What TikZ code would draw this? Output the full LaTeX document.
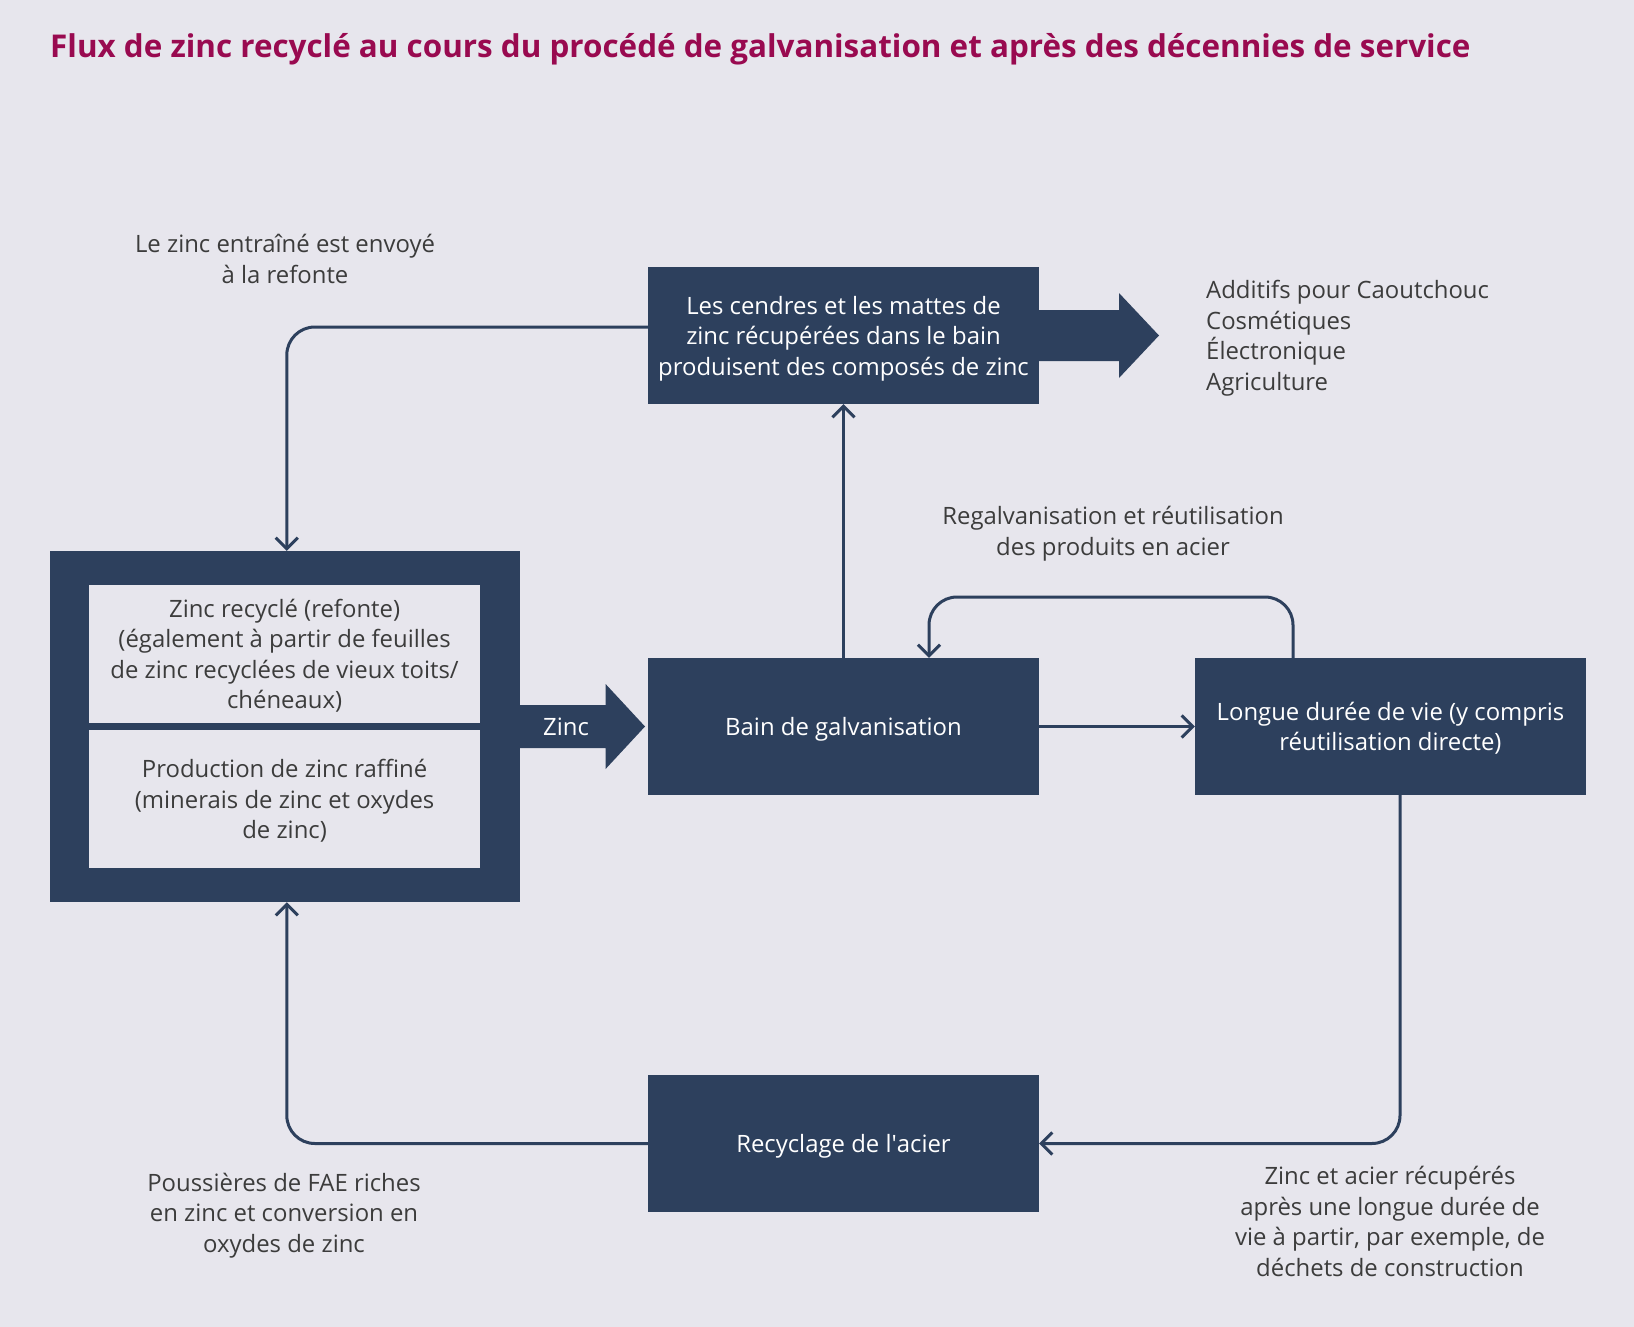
\documentclass[tikz,border=0pt]{standalone}
\usepackage{fontspec}
\setmainfont{Open Sans}
\usetikzlibrary{arrows.meta}
\definecolor{bgc}{HTML}{E7E6ED}
\definecolor{boxc}{HTML}{2D405D}
\definecolor{txtc}{HTML}{3C3C3C}
\definecolor{titc}{HTML}{990A50}
\newcommand{\bodyfont}{\fontsize{23.9pt}{30.5pt}\selectfont}
\begin{document}
\begin{tikzpicture}[x=1pt,y=-1pt,
  boxnode/.style={fill=boxc, text=white, inner sep=0pt, minimum width=391pt, minimum height=137pt, align=center, font=\bodyfont, text depth=0pt},
  innerbox/.style={fill=bgc, text=txtc, inner sep=0pt, minimum width=391pt, minimum height=138pt, align=center, font=\bodyfont, text depth=0pt},
  lbl/.style={text=txtc, inner sep=0pt, align=center, font=\bodyfont, anchor=base},
  conn/.style={draw=boxc, line width=3pt, rounded corners=28pt, -{Straight Barb[length=11pt,width=22pt]}}]
\fill[bgc] (0,0) rectangle (1634,1327);
\useasboundingbox (0,0) rectangle (1634,1327);

% title
\node[anchor=base west, inner sep=0pt, text=titc, font=\fontsize{31.4pt}{36pt}\selectfont\bfseries] (title) at (50,58) {Flux de zinc recyclé au cours du procédé de galvanisation et après des décennies de service};

% boxes
\node[boxnode] (top) at (843.5,335.5) {Les cendres et les mattes de\\zinc récupérées dans le bain\\produisent des composés de zinc};
\node[boxnode] (bain) at (843.5,726.5) {Bain de galvanisation};
\node[boxnode] (longue) at (1390.5,726.5) {Longue durée de vie (y compris\\réutilisation directe)};
\node[boxnode] (recy) at (843.5,1143.5) {Recyclage de l\textquotesingle acier};

\node[fill=boxc, inner sep=0pt, minimum width=470.4pt, minimum height=351pt] (outer) at (284.8,726.5) {};
\node[innerbox] (in1) at (284.6,654) {Zinc recyclé (refonte)\\(également à partir de feuilles\\de zinc recyclées de vieux toits/\\chéneaux)};
\node[innerbox] (in2) at (284.6,799) {Production de zinc raffiné\\(minerais de zinc et oxydes\\de zinc)};

% big arrows
\fill[boxc] (outer.east |- 0,705) -- (605.6,705) -- (605.6,684) -- (645,726.5) -- (605.6,769) -- (605.6,748) -- (outer.east |- 0,748) -- cycle;
\node[text=white, inner sep=0pt, font=\bodyfont, anchor=base] (zinclbl) at (566,735) {Zinc};
\fill[boxc] (top.east |- 0,310) -- (1119,310) -- (1119,293) -- (1159,335.5) -- (1119,378) -- (1119,361) -- (top.east |- 0,361) -- cycle;

% labels (anchor = baseline of last line)
\node[lbl] (lrefonte) at (285,283) {Le zinc entraîné est envoyé\\à la refonte};
\node[lbl, align=left, anchor=base west] (ladd) at (1206,390) {Additifs pour Caoutchouc\\Cosmétiques\\Électronique\\Agriculture};
\node[lbl] (lregal) at (1113,555) {Regalvanisation et réutilisation\\des produits en acier};
\node[lbl] (lfae) at (284,1252) {Poussières de FAE riches\\en zinc et conversion en\\oxydes de zinc};
\node[lbl] (lacier) at (1390,1276) {Zinc et acier récupérés\\après une longue durée de\\vie à partir, par exemple, de\\déchets de construction};

% connectors
\coordinate (ya) at (0,327);
\draw[conn] (top.west |- ya) -| ([xshift=2pt]outer.north);
\draw[conn] (bain.north) -- (top.south);
\coordinate (la) at ([xshift=-97.5pt]longue.north);
\coordinate (lb) at ([xshift=85.5pt]bain.north);
\coordinate (ly) at (0,597);
\draw[conn] (la) -- (la |- ly) -- (lb |- ly) -- (lb);
\draw[conn] (bain.east) -- (longue.west);
\draw[conn] ([xshift=9.5pt]longue.south) |- (recy.east);
\draw[conn] (recy.west) -| ([xshift=2pt]outer.south);
\end{tikzpicture}
\end{document}
